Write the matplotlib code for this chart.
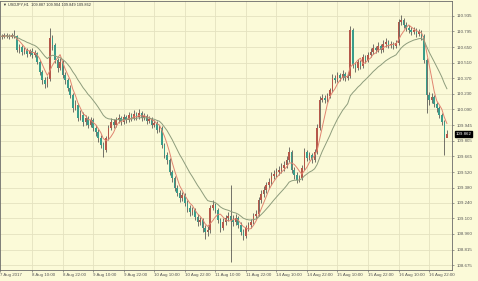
import numpy as np
import pandas as pd
import matplotlib.pyplot as plt
from matplotlib.transforms import blended_transform_factory

# USDJPY H1 bars, 7 Aug 21:00 - 17 Aug 05:00
first_open = 110.760
close = [110.751, 110.742, 110.760, 110.751, 110.742, 110.760, 110.751, 110.625, 110.652, 110.606,
         110.625, 110.588, 110.615, 110.579, 110.597, 110.516, 110.425, 110.353, 110.317, 110.362,
         110.733, 110.670, 110.534, 110.462, 110.516, 110.398, 110.353, 110.281, 110.217, 110.100,
         110.127, 110.009, 110.036, 109.973, 110.009, 109.946, 109.991, 109.919, 109.882, 109.828,
         109.765, 109.720, 109.828, 109.919, 109.973, 109.946, 109.991, 110.009, 109.973, 110.018,
         109.991, 110.036, 110.009, 110.045, 110.018, 110.054, 110.009, 110.027, 109.982, 110.000,
         109.946, 109.964, 109.901, 109.919, 109.765, 109.674, 109.629, 109.520, 109.466, 109.376,
         109.330, 109.285, 109.312, 109.240, 109.195, 109.158, 109.177, 109.113, 109.068, 109.086,
         109.014, 108.977, 108.996, 109.195, 109.222, 109.177, 109.086, 109.014, 109.068, 109.104,
         109.122, 109.086, 109.068, 109.104, 109.041, 108.977, 108.941, 109.014, 109.041, 109.068,
         109.122, 109.140, 109.267, 109.321, 109.358, 109.403, 109.430, 109.484, 109.502, 109.520,
         109.539, 109.557, 109.584, 109.629, 109.701, 109.539, 109.493, 109.448, 109.466, 109.557,
         109.701, 109.647, 109.674, 109.629, 109.701, 109.919, 110.172, 110.190, 110.172, 110.208,
         110.263, 110.371, 110.353, 110.398, 110.371, 110.407, 110.371, 110.389, 110.806, 110.489,
         110.462, 110.516, 110.480, 110.561, 110.534, 110.579, 110.606, 110.643, 110.625, 110.661,
         110.625, 110.679, 110.697, 110.670, 110.679, 110.661, 110.688, 110.878, 110.896, 110.851,
         110.824, 110.806, 110.787, 110.806, 110.769, 110.787, 110.751, 110.534, 110.217, 110.172,
         110.199, 110.136, 110.100, 110.036, 109.973, 109.828, 109.862]
high = [110.778, 110.769, 110.778, 110.778, 110.769, 110.778, 110.806, 110.760, 110.679, 110.670,
        110.652, 110.643, 110.634, 110.643, 110.625, 110.606, 110.534, 110.444, 110.380, 110.389,
        110.824, 110.760, 110.688, 110.552, 110.552, 110.534, 110.425, 110.371, 110.308, 110.235,
        110.172, 110.145, 110.082, 110.063, 110.036, 110.027, 110.018, 110.009, 109.946, 109.910,
        109.855, 109.792, 109.846, 109.946, 110.009, 110.000, 110.018, 110.045, 110.027, 110.045,
        110.036, 110.063, 110.054, 110.082, 110.063, 110.091, 110.072, 110.054, 110.045, 110.027,
        110.018, 109.991, 109.982, 109.946, 109.937, 109.783, 109.701, 109.647, 109.539, 109.484,
        109.403, 109.358, 109.339, 109.330, 109.267, 109.222, 109.204, 109.195, 109.140, 109.113,
        109.104, 109.041, 109.032, 109.222, 109.267, 109.240, 109.195, 109.104, 109.104, 109.131,
        109.158, 109.403, 109.131, 109.140, 109.122, 109.068, 109.005, 109.041, 109.068, 109.095,
        109.149, 109.177, 109.294, 109.358, 109.394, 109.430, 109.466, 109.520, 109.539, 109.557,
        109.575, 109.602, 109.620, 109.665, 109.747, 109.720, 109.566, 109.520, 109.493, 109.584,
        109.738, 109.720, 109.701, 109.692, 109.729, 109.955, 110.208, 110.226, 110.217, 110.235,
        110.281, 110.407, 110.398, 110.425, 110.416, 110.444, 110.425, 110.425, 110.842, 110.824,
        110.516, 110.543, 110.534, 110.588, 110.579, 110.606, 110.643, 110.679, 110.661, 110.697,
        110.679, 110.715, 110.733, 110.715, 110.706, 110.697, 110.715, 110.905, 110.941, 110.914,
        110.878, 110.851, 110.833, 110.833, 110.824, 110.815, 110.806, 110.769, 110.552, 110.244,
        110.235, 110.217, 110.154, 110.118, 110.054, 109.991, 109.904]
low = [110.733, 110.724, 110.733, 110.733, 110.724, 110.733, 110.733, 110.606, 110.597, 110.579,
       110.588, 110.561, 110.570, 110.552, 110.561, 110.498, 110.398, 110.317, 110.281, 110.290,
       110.344, 110.625, 110.507, 110.425, 110.444, 110.371, 110.317, 110.253, 110.190, 110.063,
       110.082, 109.982, 109.991, 109.937, 109.946, 109.919, 109.928, 109.891, 109.846, 109.792,
       109.738, 109.656, 109.701, 109.810, 109.901, 109.919, 109.928, 109.964, 109.946, 109.955,
       109.964, 109.973, 109.982, 109.991, 109.991, 110.000, 109.982, 109.991, 109.955, 109.964,
       109.919, 109.928, 109.873, 109.882, 109.738, 109.647, 109.593, 109.493, 109.430, 109.348,
       109.303, 109.249, 109.258, 109.213, 109.158, 109.122, 109.131, 109.086, 109.032, 109.041,
       108.977, 108.914, 108.941, 108.968, 109.177, 109.149, 109.059, 108.977, 108.996, 109.041,
       109.077, 108.706, 109.032, 109.041, 109.014, 108.950, 108.905, 108.923, 108.986, 109.014,
       109.050, 109.095, 109.122, 109.240, 109.294, 109.330, 109.376, 109.403, 109.457, 109.475,
       109.493, 109.511, 109.529, 109.557, 109.611, 109.511, 109.457, 109.421, 109.430, 109.448,
       109.539, 109.620, 109.629, 109.602, 109.611, 109.683, 109.901, 110.154, 110.145, 110.154,
       110.190, 110.244, 110.326, 110.335, 110.344, 110.353, 110.344, 110.353, 110.371, 110.462,
       110.425, 110.444, 110.453, 110.462, 110.507, 110.516, 110.561, 110.588, 110.597, 110.606,
       110.597, 110.606, 110.652, 110.643, 110.643, 110.634, 110.643, 110.670, 110.851, 110.824,
       110.796, 110.778, 110.760, 110.769, 110.742, 110.751, 110.715, 110.507, 110.054, 110.127,
       110.145, 110.109, 110.063, 110.009, 109.946, 109.674, 109.849]

tick_times = ["2017-08-08 10:00", "2017-08-08 22:00", "2017-08-09 10:00", "2017-08-09 22:00",
              "2017-08-10 10:00", "2017-08-10 22:00", "2017-08-11 10:00", "2017-08-11 22:00",
              "2017-08-14 10:00", "2017-08-14 22:00", "2017-08-15 10:00", "2017-08-15 22:00",
              "2017-08-16 10:00", "2017-08-16 22:00"]
tick_labels = ["8 Aug 10:00", "8 Aug 22:00", "9 Aug 10:00", "9 Aug 22:00", "10 Aug 10:00",
               "10 Aug 22:00", "11 Aug 10:00", "11 Aug 22:00", "14 Aug 10:00", "14 Aug 22:00",
               "15 Aug 10:00", "15 Aug 22:00", "16 Aug 10:00", "16 Aug 22:00"]
price_ticks = [110.935, 110.795, 110.650, 110.510, 110.370, 110.230, 110.090, 109.945, 109.805,
               109.665, 109.520, 109.380, 109.240, 109.100, 108.960, 108.815, 108.675]
title = "USDJPY,H1  109.887 109.904 109.849 109.862"

# trading hours only (weekend skipped)
times = pd.date_range("2017-08-07 21:00", "2017-08-17 05:00", freq="h")
times = times[times.dayofweek < 5]
idx = np.arange(len(times))

close = np.array(close)
high = np.array(high)
low = np.array(low)
opn = np.concatenate([[first_open], close[:-1]])

fast = pd.Series(close).rolling(5, min_periods=1).mean()
slow = pd.Series(close).ewm(span=18, adjust=False).mean()

bg = "#fbfad8"
grid_c = "#e4e2c0"
up_c = "#b5584a"
down_c = "#3a9c8a"
wick_c = "#3c3c3c"

plt.rcParams['font.family'] = ['Liberation Sans', 'DejaVu Sans']

fig = plt.figure(figsize=(4.78, 2.81), dpi=100)
fig.patch.set_facecolor(bg)
ax = fig.add_axes([0, 11 / 281, 452 / 478, 269 / 281])
ax.set_facecolor(bg)

# grid
tick_pos = [times.get_loc(pd.Timestamp(t)) for t in tick_times]
for p in tick_pos:
    ax.axvline(p, color=grid_c, lw=0.6, zorder=0)
for p in price_ticks:
    ax.axhline(p, color=grid_c, lw=0.6, zorder=0)

# candles
colors = np.where(close >= opn, up_c, down_c)
ax.vlines(idx, low, high, color=wick_c, lw=0.5, zorder=2)
ax.bar(idx, close - opn, bottom=opn, width=0.62, color=colors, linewidth=0, zorder=3)

# moving averages
ax.plot(idx, fast, color="#e08470", lw=0.7, zorder=4)
ax.plot(idx, slow, color="#8d9c7c", lw=0.7, zorder=4)

ax.set_xlim(0.39, 178.0)
ax.set_ylim(108.6335, 111.068)

ax.yaxis.tick_right()
ax.set_yticks(price_ticks)
ax.set_yticklabels([f"{p:.3f}" for p in price_ticks])
ax.set_xticks([0.39] + tick_pos)
ax.set_xticklabels(["7 Aug 2017"] + tick_labels)
for lab in ax.get_xticklabels():
    lab.set_horizontalalignment('left')
ax.tick_params(axis='both', labelsize=3.2, colors="#555555", length=1.5, width=0.4, pad=1.5)
ax.tick_params(axis='x', pad=1.0)
for s in ax.spines.values():
    s.set_color("#6a6a6a")
    s.set_linewidth(0.6)

ax.text(0.006, 0.993, "\u25bc " + title, transform=ax.transAxes, fontsize=2.8,
        color="#333333", va='top', ha='left')

# current price box on the price scale
trans = blended_transform_factory(ax.transAxes, ax.transData)
ax.annotate(f"{close[-1]:.3f}", xy=(1.0, close[-1]), xycoords=trans,
            xytext=(2.5, 0), textcoords='offset points', fontsize=3.2, color='white',
            va='center', ha='left', annotation_clip=False,
            bbox=dict(boxstyle='square,pad=0.2', fc='black', ec='black'))

fig.savefig("out.png", dpi=100, facecolor=bg)
